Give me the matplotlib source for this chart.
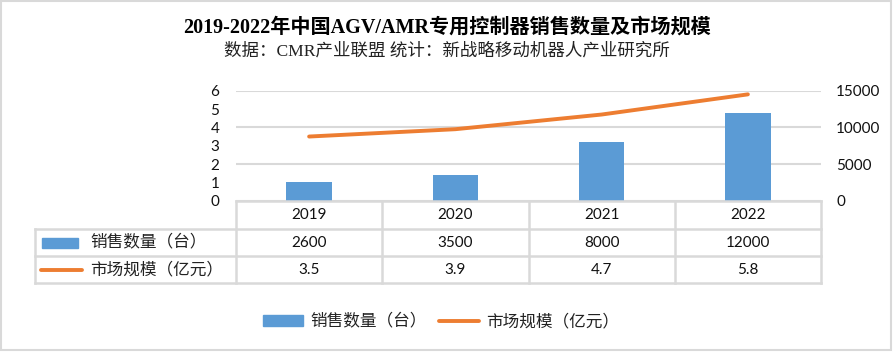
import matplotlib.pyplot as plt
from matplotlib.patches import Rectangle
from matplotlib.lines import Line2D

years = ["2019", "2020", "2021", "2022"]
sales_units = [2600, 3500, 8000, 12000]
market_size = [3.5, 3.9, 4.7, 5.8]
sales_label = "销售数量（台）"
market_label = "市场规模（亿元）"

BLUE = "#5b9bd5"
ORANGE = "#ed7d31"
GRID = "#d9d9d9"
CJK = ["Noto Sans CJK SC", "DejaVu Sans"]
NUM = ["Lato", "Noto Sans CJK SC"]

W, H = 893, 353
fig = plt.figure(figsize=(W / 100, H / 100), dpi=100)
fig.patch.set_facecolor("white")


def fx(px):
    return px / W


def fy(py):
    return 1 - py / H


# outer border
fig.patches.append(Rectangle((fx(1), fy(350)), fx(890), 349 / H, transform=fig.transFigure,
                             fill=False, edgecolor=GRID, linewidth=1.5))

# titles
fig.text(0.5, fy(28), "2019-2022年中国AGV/AMR专用控制器销售数量及市场规模", ha="center", va="center",
         fontsize=14.5, fontweight="bold", family=["Liberation Serif", "Noto Sans CJK SC"], color="black")
fig.text(0.5, fy(51), "数据：CMR产业联盟 统计：新战略移动机器人产业研究所", ha="center", va="center",
         fontsize=12.6, family=["Liberation Serif", "Noto Sans CJK SC"], color="#222222")

# main chart area
left_px, right_px, top_px, bot_px = 236, 821, 90.7, 200.7
ax = fig.add_axes([fx(left_px), fy(bot_px), fx(right_px - left_px), (bot_px - top_px) / H])
ax2 = ax.twinx()
x = list(range(len(years)))

ax2.bar(x, sales_units, width=0.31, color=BLUE, zorder=2)
ax2.set_ylim(0, 15000)
ax2.set_yticks([0, 5000, 10000, 15000])

ax.plot(x, market_size, color=ORANGE, linewidth=2.8, solid_capstyle="round", zorder=3)
ax.set_ylim(0, 6)
ax.set_yticks(range(7))
ax.set_xlim(-0.5, len(years) - 0.5)
ax.set_zorder(ax2.get_zorder() + 1)
ax.patch.set_visible(False)

for a in (ax, ax2):
    for s in a.spines.values():
        s.set_visible(False)
    a.tick_params(length=0, labelsize=11, labelcolor="#111111")
    for lab in a.get_yticklabels():
        lab.set_family(NUM)
ax.set_xticks([])
ax.tick_params(axis="y", pad=12)
ax2.tick_params(axis="y", pad=11)
ax2.yaxis.grid(True, color=GRID, linewidth=1.5, zorder=0)
ax2.set_axisbelow(True)

# data table
tab_left, tab_top, tab_bot = 35, 201, 283
col_w = (right_px - left_px) / len(years)
label_cols = (left_px - tab_left) / col_w
tab = fig.add_axes([fx(tab_left), fy(tab_bot), fx(right_px - tab_left), (tab_bot - tab_top) / H])
x0 = -0.5 - label_cols
tab.set_xlim(x0, len(years) - 0.5)
tab.set_ylim(0, 3)
tab.axis("off")


def px_to_x(px):
    return x0 + (px - tab_left) / col_w


row_h = (tab_bot - tab_top) / 3
rows_px = [tab_top, 229, 256, tab_bot]
rows_y = [3 - (r - tab_top) / row_h for r in rows_px]
lw = 1.8
tab.plot([-0.5, len(years) - 0.5], [rows_y[0]] * 2, color=GRID, lw=lw, clip_on=False)
for ry in rows_y[1:]:
    tab.plot([x0, len(years) - 0.5], [ry] * 2, color=GRID, lw=lw, clip_on=False)
for i in range(len(years) + 1):
    tab.plot([i - 0.5] * 2, [rows_y[-1], rows_y[0]], color=GRID, lw=lw, clip_on=False)
tab.plot([x0] * 2, [rows_y[-1], rows_y[1]], color=GRID, lw=lw, clip_on=False)

mid = [(rows_y[k] + rows_y[k + 1]) / 2 for k in range(3)]
for i, yr in enumerate(years):
    tab.text(i, mid[0], yr, ha="center", va="center", fontsize=11, family=NUM, color="#111111")
    tab.text(i, mid[1], str(sales_units[i]), ha="center", va="center", fontsize=11, family=NUM, color="#111111")
    tab.text(i, mid[2], str(market_size[i]), ha="center", va="center", fontsize=11, family=NUM, color="#111111")

ph = 10 / row_h
tab.add_patch(Rectangle((px_to_x(42), mid[1] - ph / 2), px_to_x(78) - px_to_x(42), ph,
                        color=BLUE, clip_on=False))
tab.plot([px_to_x(41), px_to_x(82)], [mid[2] - 0.03] * 2, color=ORANGE, lw=2.8,
         solid_capstyle="round", clip_on=False)
tab.text(px_to_x(90), mid[1], sales_label, ha="left", va="center", fontsize=12, family=CJK, color="#222222")
tab.text(px_to_x(90), mid[2], market_label, ha="left", va="center", fontsize=12, family=CJK, color="#222222")

# bottom legend
handles = [Rectangle((0, 0), 1, 1, color=BLUE),
           Line2D([0], [0], color=ORANGE, lw=2.8, solid_capstyle="round")]
fig.legend(handles, [sales_label, market_label], loc="center", ncol=2, frameon=False,
           bbox_to_anchor=(fx(441), fy(322)), prop={"family": CJK, "size": 12},
           handlelength=2.4, handleheight=0.6, handletextpad=0.42, columnspacing=0.75,
           labelcolor="#222222")

fig.savefig("out.png", dpi=100)
